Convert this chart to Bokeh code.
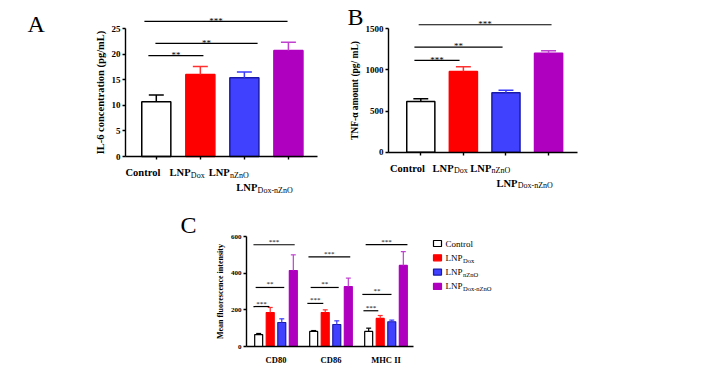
import math
from bokeh.plotting import figure
from bokeh.models import Range1d, FixedTicker, Label, Spacer
from bokeh.layouts import row, column
from bokeh.core.properties import value
from bokeh.embed import file_html
from bokeh.resources import INLINE

SERIF = "Liberation Serif"

# ---------------- data ----------------
group_main = ["Control", "LNP", "LNP", "LNP"]
group_sub = ["", "Dox", "nZnO", "Dox-nZnO"]

il6_mean = [10.7, 16.0, 15.4, 20.7]
il6_err = [1.3, 1.6, 1.1, 1.6]
il6_ticks = [0, 5, 10, 15, 20, 25]
il6_sig_from = [-0.27, -0.02, -0.18]
il6_sig_to = [2.98, 2.30, 1.07]
il6_sig_y = [26.4, 22.1, 19.7]
il6_sig_text = ["***", "**", "**"]

tnf_mean = [616, 981, 722, 1203]
tnf_err = [33, 57, 32, 29]
tnf_ticks = [0, 500, 1000, 1500]
tnf_sig_from = [-0.05, -0.15, -0.15]
tnf_sig_to = [3.07, 1.92, 0.91]
tnf_sig_y = [1549, 1276, 1115]
tnf_sig_text = ["***", "**", "***"]

markers = ["CD80", "CD86", "MHC II"]
mfi_control = [65, 82, 82]
mfi_dox = [185, 185, 153]
mfi_nzno = [131, 120, 135]
mfi_doxnzno = [414, 327, 442]
mfi_control_err = [6, 5, 18]
mfi_dox_err = [28, 15, 16]
mfi_nzno_err = [20, 20, 9]
mfi_doxnzno_err = [86, 46, 76]
mfi_ticks = [0, 200, 400, 600]
mfi_sig_from = [-0.41, -0.37, -0.41, 0.59, 0.63, 0.57, 1.63, 1.57, 1.59]
mfi_sig_to = [0.34, 0.15, -0.12, 1.35, 1.14, 0.86, 2.39, 2.10, 1.86]
mfi_sig_y = [555, 322, 218, 489, 322, 235, 556, 284, 195]
mfi_sig_text = ["***", "**", "***", "***", "**", "***", "***", "**", "***"]

# ---------------- style ----------------
fills = ["white", "#ff0000", "#4040ff", "#b000bf"]
edges = ["black", "#ff0000", "#1a1aa8", "#b000bf"]
errc = ["black", "#ff3030", "#3a3aff", "#c040d0"]

W_REG = {"D": 722, "o": 500, "x": 500, "-": 333, "n": 500, "Z": 611, "O": 722,
         "L": 611, "N": 722, "P": 556}
W_BOLD = {"C": 722, "o": 500, "n": 556, "t": 333, "r": 444, "l": 278,
          "L": 667, "N": 722, "P": 611}


def text_w(s, size, table=W_REG):
    return sum(table.get(ch, 500) for ch in s) * size / 1000.0


class Geo:
    """pixel geometry of a panel: canvas box (page px), data origin (page px), px per unit"""
    def __init__(self, left, top, width, height, x0_px, y0_px, sx, sy):
        self.left, self.top, self.width, self.height = left, top, width, height
        self.x0_px, self.y0_px, self.sx, self.sy = x0_px, y0_px, sx, sy

    def x(self, px):
        return (px - self.x0_px) / self.sx

    def y(self, py):
        return (self.y0_px - py) / self.sy

    def fig(self):
        p = figure(width=self.width, height=self.height,
                   x_range=Range1d(self.x(self.left), self.x(self.left + self.width)),
                   y_range=Range1d(self.y(self.top + self.height), self.y(self.top)),
                   output_backend="svg", toolbar_location=None,
                   min_border_left=0, min_border_right=0, min_border_top=0, min_border_bottom=0)
        p.xgrid.grid_line_color = None
        p.ygrid.grid_line_color = None
        p.outline_line_color = None
        p.background_fill_color = "white"
        p.border_fill_color = "white"
        return p


def style_axes(p, g, yticks, ybounds, tick_size, ylabel, label_size, xticks, show_xticks,
               x_left_px, x_right_px):
    for ax in (p.xaxis[0], p.yaxis[0]):
        ax.axis_line_color = "black"
        ax.axis_line_width = 1.4
        ax.major_tick_line_color = "black"
        ax.major_tick_line_width = 1.4
        ax.minor_tick_line_color = None
        ax.major_tick_in = 0
        ax.major_tick_out = 3
        ax.major_label_text_font = SERIF
        ax.major_label_text_font_style = "bold"
        ax.major_label_text_font_size = tick_size
        ax.major_label_text_color = "black"
        ax.major_label_standoff = 2
    p.yaxis.ticker = FixedTicker(ticks=yticks)
    p.yaxis.bounds = ybounds
    p.yaxis.fixed_location = g.x(x_left_px)
    p.yaxis.axis_label = ylabel
    p.yaxis.axis_label_text_font = SERIF
    p.yaxis.axis_label_text_font_style = "bold"
    p.yaxis.axis_label_text_font_size = label_size
    p.yaxis.axis_label_text_color = "black"
    p.yaxis.axis_label_standoff = 3
    p.xaxis.ticker = FixedTicker(ticks=xticks)
    p.xaxis.major_label_overrides = {t: "" for t in xticks}
    p.xaxis.major_label_text_font_size = "1px"
    p.xaxis.fixed_location = 0
    p.xaxis.bounds = (g.x(x_left_px), g.x(x_right_px))
    if not show_xticks:
        p.xaxis.major_tick_line_color = None


def group_labels(p, g, xs, mains, subs, main_size, sub_size, right_px, row1_px, row2_px):
    """tick labels: bold main text + smaller subscript, right end near the tick;
    a label wider than one tick spacing drops to a second row."""
    for x, main, sub in zip(xs, mains, subs):
        ws = text_w(sub, sub_size) if sub else 0.0
        wm = text_w(main, main_size, W_BOLD)
        right = g.x0_px + x * g.sx + right_px
        dy = row1_px if ws + wm < g.sx - 2 else row2_px
        split = right - ws
        p.text(x=[g.x(split)], y=[g.y(g.y0_px + dy)], text=[main], text_align="right",
               text_baseline="middle", text_font=value(SERIF),
               text_font_size=value(f"{main_size}px"), text_font_style="bold",
               text_color="black")
        if sub:
            p.text(x=[g.x(split + 0.3)], y=[g.y(g.y0_px + dy + 2.6)], text=[sub],
                   text_align="left", text_baseline="middle", text_font=value(SERIF),
                   text_font_size=value(f"{sub_size}px"), text_color="black")


def sig(p, g, x0s, x1s, ys, texts, gap_px, size, lw):
    p.segment(x0=x0s, y0=ys, x1=x1s, y1=ys, line_color="black", line_width=lw)
    tx = [(a + b) / 2 for a, b in zip(x0s, x1s)]
    ty = [y + gap_px / g.sy for y in ys]
    p.text(x=tx, y=ty, text=texts, text_font=value(SERIF), text_font_size=value(f"{size}px"),
           text_align="center", text_baseline="alphabetic", text_color="black")


def bars(p, xs, means, errs, width, cap, lw_err, lw_bar, fill_list, edge_list, err_list):
    p.vbar(x=xs, top=means, width=width, bottom=0, fill_color=fill_list,
           line_color=edge_list, line_width=lw_bar)
    tops = [m + e for m, e in zip(means, errs)]
    p.segment(x0=xs, y0=means, x1=xs, y1=tops, line_color=err_list, line_width=lw_err)
    p.segment(x0=[x - cap / 2 for x in xs], y0=tops, x1=[x + cap / 2 for x in xs], y1=tops,
              line_color=err_list, line_width=lw_err)


def letter(p, g, px, py, t):
    p.add_layout(Label(x=g.x(px), y=g.y(py), text=t, text_font=SERIF, text_font_size="24px",
                       text_align="left", text_baseline="alphabetic", text_color="black"))


ROW1 = 208

# ---------------- panel A ----------------
gA = Geo(0, 0, 345, ROW1, 155.8, 156, 44.04, 5.12)
pA = gA.fig()
xA = list(range(len(il6_mean)))
style_axes(pA, gA, il6_ticks, (0, 25), "9px", "IL-6 concentration (pg/mL)", "10.5px", xA, True,
           125, 317)
bars(pA, xA, il6_mean, il6_err, 0.66, 0.34, 1.5, 1.5, fills, edges, errc)
sig(pA, gA, il6_sig_from, il6_sig_to, il6_sig_y, il6_sig_text, 0.8, 9, 1.2)
group_labels(pA, gA, xA, group_main, group_sub, 10.5, 8, 4, 16, 31)
letter(pA, gA, 27, 23, "A")

# ---------------- panel B ----------------
gB = Geo(345, 0, 255, ROW1, 420.3, 151.7, 42.59, 0.08227)
pB = gB.fig()
xB = list(range(len(tnf_mean)))
style_axes(pB, gB, tnf_ticks, (0, 1500), "9px", "TNF-\u03b1 amount (pg/ mL)", "9.5px", xB, True,
           388, 577)
bars(pB, xB, tnf_mean, tnf_err, 0.66, 0.35, 1.5, 1.5, fills, edges, errc)
sig(pB, gB, tnf_sig_from, tnf_sig_to, tnf_sig_y, tnf_sig_text, 0.8, 9, 1.2)
group_labels(pB, gB, xB, group_main, group_sub, 10.5, 8, 4, 16, 31)
letter(pB, gB, 347, 16, "B")

# ---------------- panel C ----------------
gC = Geo(168, ROW1, 362, 383 - ROW1, 275.5, 346, 55.0, 0.18333)
pC = gC.fig()
xC = list(range(len(markers)))
style_axes(pC, gC, mfi_ticks, (0, 600), "7px", "Mean fluorescence intensity", "8px", xC, False,
           246, 413)
pC.xaxis.major_label_overrides = {i: markers[i] for i in xC}
pC.xaxis.major_label_text_font_size = "8.5px"
pC.xaxis.major_label_standoff = 5
series = [mfi_control, mfi_dox, mfi_nzno, mfi_doxnzno]
series_err = [mfi_control_err, mfi_dox_err, mfi_nzno_err, mfi_doxnzno_err]
for j in range(4):
    xs = [i + (j - 1.5) * 0.21 for i in xC]
    bars(pC, xs, series[j], series_err[j], 0.145, 0.09, 1.2, 1.2,
         fills[j], edges[j], errc[j])
sig(pC, gC, mfi_sig_from, mfi_sig_to, mfi_sig_y, mfi_sig_text, 3.0, 7, 1.2)
letter(pC, gC, 180, 224, "C")

# legend (C)
leg_y_px = [243 + 14.3 * k for k in range(4)]
pC.rect(x=[gC.x(437)] * 4, y=[gC.y(v) for v in leg_y_px], width=8, height=6,
        width_units="screen", height_units="screen", fill_color=fills, line_color=edges,
        line_width=1.2)
for k in range(4):
    pC.add_layout(Label(x=gC.x(445), y=gC.y(leg_y_px[k]), text=group_main[k], text_font=SERIF,
                        text_font_size="9px", text_align="left", text_baseline="middle",
                        text_color="black"))
    if group_sub[k]:
        pC.add_layout(Label(x=gC.x(445), y=gC.y(leg_y_px[k]), x_offset=text_w("LNP", 9) + 0.5,
                            y_offset=-2.5, text=group_sub[k], text_font=SERIF,
                            text_font_size="6.5px", text_align="left", text_baseline="middle",
                            text_color="black"))

layout = column(row(pA, pB), row(Spacer(width=168, height=383 - ROW1), pC))

open("out.html", "w").write(file_html(layout, INLINE))
